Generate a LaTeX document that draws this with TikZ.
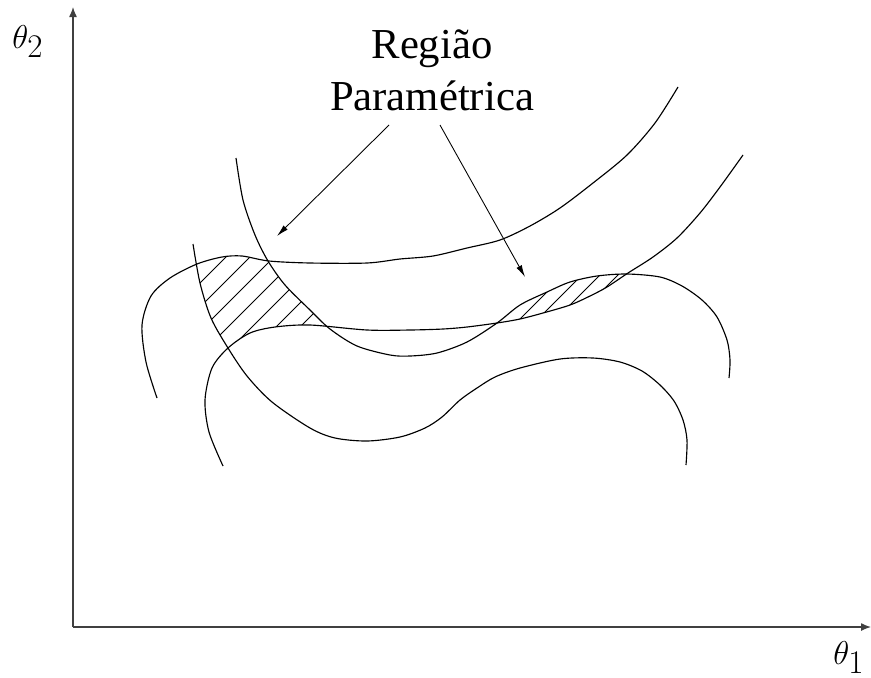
\RequirePackage{fix-cm}
\documentclass[tikz,border=0pt]{standalone}
\usepackage{fontspec}
\setmainfont{Liberation Serif}
\usepackage{tikz}
\usetikzlibrary{arrows.meta}

% the four boundary curves (pixel units)
\def\curveA{plot[smooth] coordinates {(236,158) (243,200) (255,235) (268,261) (285,285) (310,310) (330,329) (357,346) (390,355) (410,356) (437,353) (467,342) (497,323) (520,305) (547,292) (570,282) (597,276) (627,274) (660,277) (682,286) (702,300) (717,317) (727,340) (730,360) (729,378)}}
\def\curveB{plot[smooth] coordinates {(193,244) (200,283) (211,318) (228,348) (247,376) (272,402) (310,428) (335,438) (367,441) (400,437) (425,428) (442,417) (460,400) (477,388) (495,377) (520,368) (560,359) (593,358) (620,362) (642,371) (660,385) (674,401) (683,420) (687,440) (686,465)}}
\def\curveC{plot[smooth] coordinates {(157,398) (146,362) (142,325) (151,296) (170,278) (197,264) (222,257) (242,256) (269,261) (310,263) (367,263) (400,259) (433,256) (467,248) (500,240) (530,226) (560,208) (593,183) (627,155) (655,123) (678,87)}}
\def\curveD{plot[smooth] coordinates {(223,466) (209,432) (205,400) (212,368) (228,348) (250,333) (275,327) (310,325) (367,330) (410,330) (443,329) (467,327) (497,323) (520,319) (543,313) (570,305) (590,296) (607,287) (628,273) (653,257) (677,238) (700,213) (720,187) (743,155)}}

\begin{document}
\begin{tikzpicture}[
  x=0.02cm, y=-0.02cm,
  curve/.style={line width=0.65pt},
  hatch/.style={line width=0.45pt},
  axis/.style={line width=0.75pt, black!75, -{Latex[length=2mm, width=1.6mm]}},
  arr/.style={line width=0.5pt, -{Latex[length=2.4mm, width=1.2mm]}},
  lbl/.style={font=\fontsize{18.8}{22}\selectfont, inner sep=0pt, anchor=base west},
]
  \useasboundingbox (0,0) rectangle (871,677);

  % axes
  \coordinate (O) at (73,627);
  \coordinate (xend) at (871,627);
  \coordinate (yend) at (73,7);
  \draw[axis] (O) -- (xend);
  \draw[axis] (O) -- (yend);
  \node[lbl] (t1) at (833,664) {$\theta_{\textstyle 1}$};
  \node[lbl] (t2) at (12,48) {$\theta_{\textstyle 2}$};

  % hatching where the two bands overlap
  \begin{scope}
    \clip \curveA -- (729,700) -- (-100,700) -- (-100,158) -- cycle;
    \clip \curveB -- (1000,465) -- (1000,-100) -- (193,-100) -- cycle;
    \clip \curveC -- (1000,87) -- (1000,700) -- (157,700) -- cycle;
    \clip \curveD -- (743,-100) -- (-100,-100) -- (-100,466) -- cycle;
    \foreach \c in {483,507,...,627}
      \draw[hatch] (\c-500,500) -- (\c-100,100);
    \foreach \c in {839,857,...,893}
      \draw[hatch] (\c-500,500) -- (\c-100,100);
  \end{scope}

  \draw[curve] \curveA;
  \draw[curve] \curveB;
  \draw[curve] \curveC;
  \draw[curve] \curveD;

  % label and arrows
  \node[font=\rmfamily\fontsize{24.3}{29.3}\selectfont, align=center, inner sep=0pt, anchor=south] (regiao) at (432,111) {Região\\Paramétrica};
  \coordinate (tipL) at (277,236);
  \coordinate (tipR) at (525,277);
  \draw[arr] ([xshift=-0.86cm, yshift=-0.28cm]regiao.south) -- (tipL);
  \draw[arr] ([xshift=0.16cm, yshift=-0.28cm]regiao.south) -- (tipR);
\end{tikzpicture}
\end{document}
